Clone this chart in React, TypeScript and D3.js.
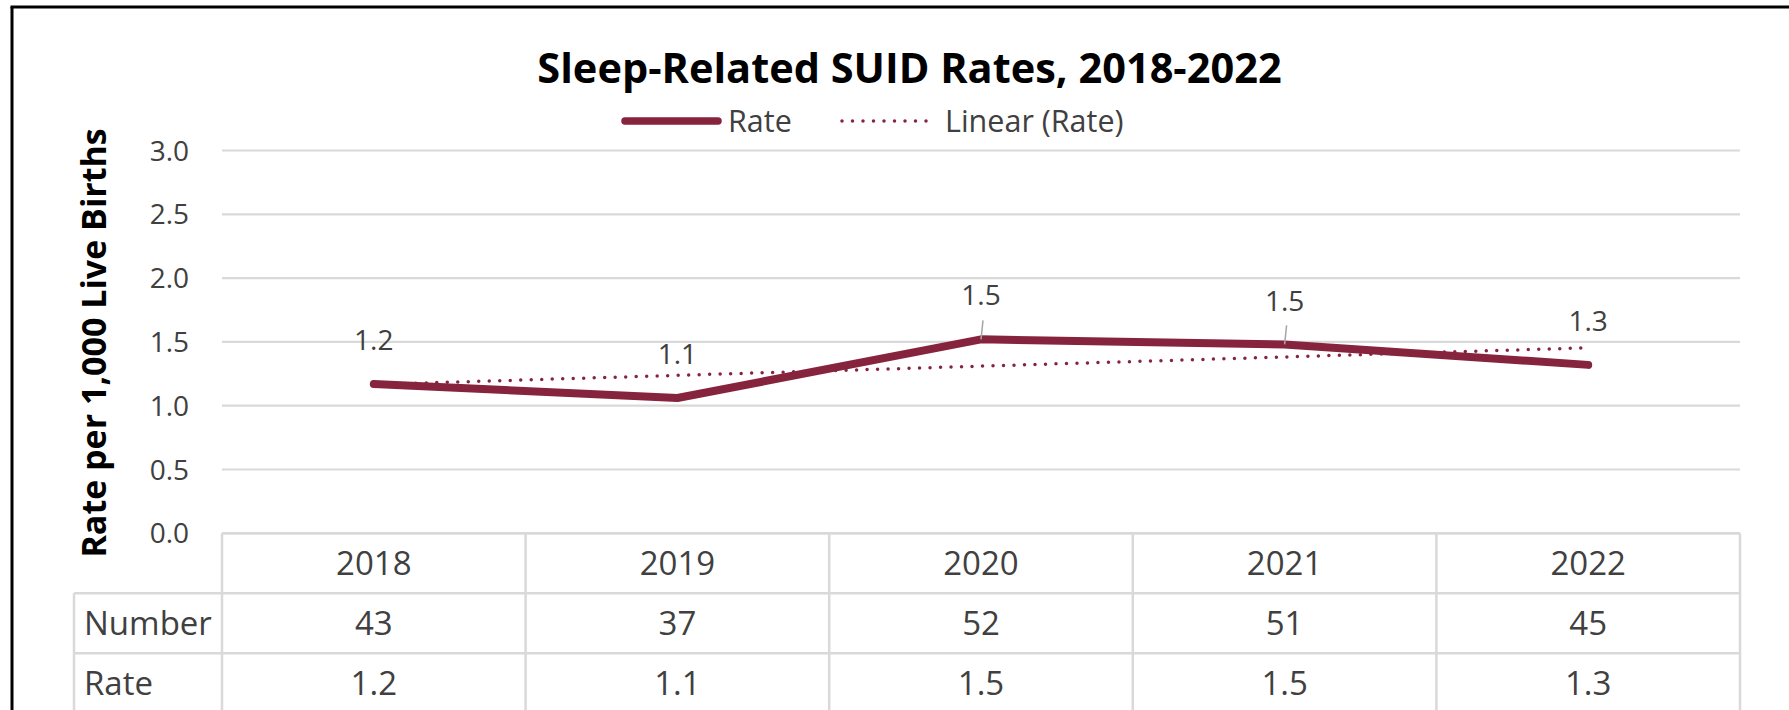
import React from "react";
import * as d3 from "d3";

const years = ["2018", "2019", "2020", "2021", "2022"];
const rates = [1.17, 1.06, 1.52, 1.48, 1.32];
const numbers = [43, 37, 52, 51, 45];
const yTicks = [0, 0.5, 1.0, 1.5, 2.0, 2.5, 3.0];
const leaderLabels = ["2020", "2021"];

const W = 1789;
const H = 710;
const FONT = '"Open Sans", "Noto Sans", sans-serif';
const MAROON = "#86243E";
const GRID = "#d9d9d9";
const TXT = "#404040";

export default function App() {
  const x = d3.scaleBand<string>().domain(years).range([222, 1740]).padding(0);
  const y = d3.scaleLinear().domain([0, 3]).range([533.3, 150.5]);
  const cx = (d: string) => (x(d) as number) + x.bandwidth() / 2;

  // linear trend (least squares) computed from rates
  const n = rates.length;
  const idx = d3.range(n);
  const mx = d3.mean(idx) as number;
  const my = d3.mean(rates) as number;
  const slope =
    d3.sum(idx, (i) => (i - mx) * (rates[i] - my)) /
    d3.sum(idx, (i) => (i - mx) * (i - mx));
  const intercept = my - slope * mx;
  const trend = idx.map((i) => intercept + slope * i);

  const line = d3
    .line<number>()
    .x((_, i) => cx(years[i]))
    .y((v) => y(v));

  const fmt = d3.format(".1f");
  const rowTop = 533.3;
  const rowH = 60;
  const tableLeft = 74;
  const plotLeft = 222;
  const plotRight = 1740;
  const edges = years.map((d) => x(d) as number).concat([plotRight]);

  return (
    <svg
      width={W}
      height={H}
      style={{ position: "absolute", left: 0, top: 0, background: "#fff" }}
      fontFamily={FONT}
    >
      <rect x={0} y={0} width={W} height={H} fill="#fff" />
      {/* outer border (left & top) */}
      <line x1={12} y1={7} x2={12} y2={H} stroke="#000" strokeWidth={3} />
      <line x1={10.5} y1={7} x2={W} y2={7} stroke="#000" strokeWidth={3} />

      {/* title */}
      <text x={909.5} y={83} textAnchor="middle" fontSize={41.5} fontWeight={700} fill="#000">
        Sleep-Related SUID Rates, 2018-2022
      </text>

      {/* legend */}
      <line x1={625} y1={121} x2={718} y2={121} stroke={MAROON} strokeWidth={7.5} strokeLinecap="round" />
      <text x={728} y={132} fontSize={30.5} fill={TXT}>Rate</text>
      <line
        x1={842}
        y1={121}
        x2={930}
        y2={121}
        stroke={MAROON}
        strokeWidth={3.5}
        strokeDasharray="0 10.5"
        strokeLinecap="round"
      />
      <text x={945} y={132} fontSize={30.5} fill={TXT}>Linear (Rate)</text>

      {/* gridlines */}
      {yTicks.map((t) => (
        <line key={t} x1={plotLeft} x2={plotRight} y1={y(t)} y2={y(t)} stroke={GRID} strokeWidth={2.2} />
      ))}
      {/* y tick labels */}
      {yTicks.map((t) => (
        <text key={"l" + t} x={189} y={y(t)} dy="0.36em" textAnchor="end" fontSize={28} fill={TXT}>
          {fmt(t)}
        </text>
      ))}

      {/* y axis title */}
      <text
        transform={`translate(106, ${(150.5 + 533.3) / 2 + 1}) rotate(-90)`}
        textAnchor="middle"
        fontSize={34}
        fontWeight={700}
        fill="#000"
      >
        Rate per 1,000 Live Births
      </text>

      {/* trend line */}
      <path
        d={line(trend) || ""}
        fill="none"
        stroke={MAROON}
        strokeWidth={3.5}
        strokeDasharray="0 10.5"
        strokeLinecap="round"
      />
      {/* rate line */}
      <path
        d={line(rates) || ""}
        fill="none"
        stroke={MAROON}
        strokeWidth={8}
        strokeLinecap="round"
        strokeLinejoin="round"
      />

      {/* data labels */}
      {years.map((d, i) => {
        const px = cx(d);
        const py = y(rates[i]);
        const ly = py - 44;
        return (
          <g key={"dl" + d}>
            {leaderLabels.includes(d) && (
              <line x1={px + 2} y1={ly + 25} x2={px} y2={py} stroke="#a6a6a6" strokeWidth={1.5} />
            )}
            <text x={px} y={ly} dy="0.36em" textAnchor="middle" fontSize={28} fill={TXT}>
              {fmt(rates[i])}
            </text>
          </g>
        );
      })}

      {/* data table */}
      <g stroke={GRID} strokeWidth={2.5}>
        <line x1={plotLeft} x2={plotRight} y1={rowTop} y2={rowTop} />
        <line x1={tableLeft} x2={plotRight} y1={rowTop + rowH} y2={rowTop + rowH} />
        <line x1={tableLeft} x2={plotRight} y1={rowTop + 2 * rowH} y2={rowTop + 2 * rowH} />
        <line x1={tableLeft} x2={tableLeft} y1={rowTop + rowH} y2={H} />
        {edges.map((e, i) => (
          <line key={"v" + i} x1={e} x2={e} y1={rowTop} y2={H} />
        ))}
      </g>
      {years.map((d) => (
        <text key={"yr" + d} x={cx(d)} y={rowTop + rowH / 2} dy="0.36em" textAnchor="middle" fontSize={33} fill={TXT}>
          {d}
        </text>
      ))}
      <text x={84} y={rowTop + rowH * 1.5} dy="0.36em" fontSize={33} fill={TXT}>Number</text>
      {years.map((d, i) => (
        <text key={"n" + d} x={cx(d)} y={rowTop + rowH * 1.5} dy="0.36em" textAnchor="middle" fontSize={33} fill={TXT}>
          {numbers[i]}
        </text>
      ))}
      <text x={84} y={rowTop + rowH * 2.5} dy="0.36em" fontSize={33} fill={TXT}>Rate</text>
      {years.map((d, i) => (
        <text key={"r" + d} x={cx(d)} y={rowTop + rowH * 2.5} dy="0.36em" textAnchor="middle" fontSize={33} fill={TXT}>
          {fmt(rates[i])}
        </text>
      ))}
    </svg>
  );
}
